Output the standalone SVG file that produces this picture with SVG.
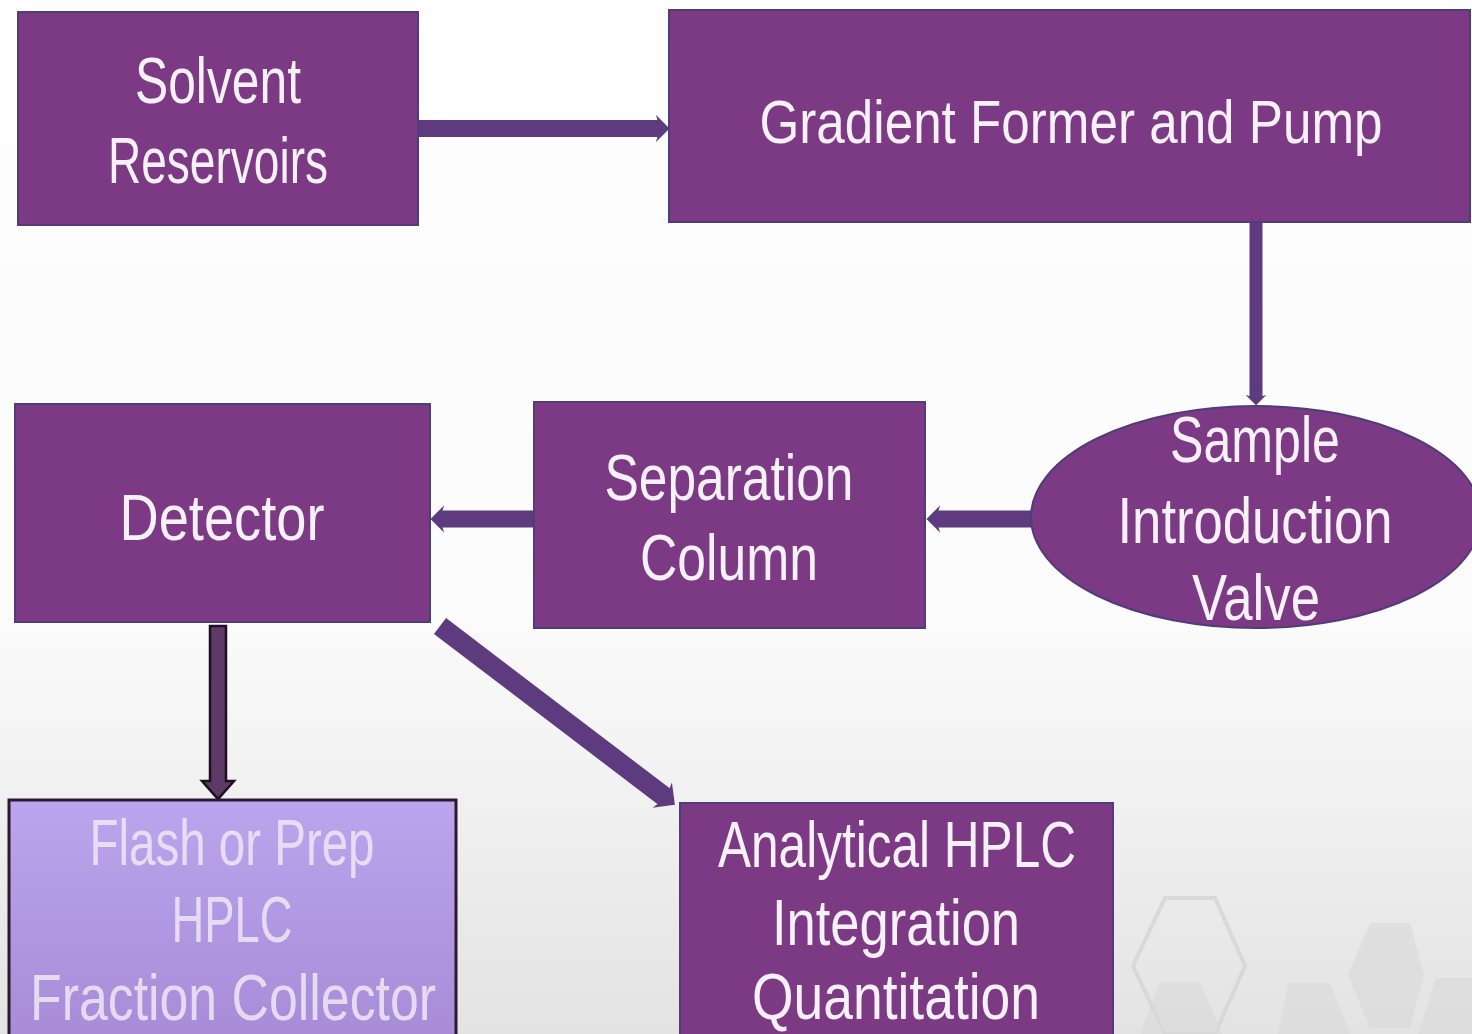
<svg xmlns="http://www.w3.org/2000/svg" width="1472" height="1034" viewBox="0 0 1472 1034">
<defs>
<linearGradient id="bg" x1="0" y1="0" x2="0" y2="1">
<stop offset="0" stop-color="#fefefe"/>
<stop offset="0.6" stop-color="#fbfbfb"/>
<stop offset="1" stop-color="#e3e3e3"/>
</linearGradient>
<linearGradient id="lav" x1="0" y1="0" x2="0" y2="1">
<stop offset="0" stop-color="#bca5ee"/>
<stop offset="1" stop-color="#a78bd6"/>
</linearGradient>
<marker id="head" viewBox="0 0 10 20" markerWidth="0.8" markerHeight="1.9" refX="3" refY="10" orient="auto" markerUnits="strokeWidth">
<path d="M0,0 L10,10 L0,20 L3,10 Z" fill="#5e3a7e"/>
</marker>
</defs>
<style>
.box{fill:#7b3a83;stroke:#4f3c7a;stroke-width:2}
.lbl{font-family:"Liberation Sans",Arial,sans-serif;font-size:64px;fill:#f6f0f8;text-anchor:middle}
.faint{fill:#efe8f6;opacity:0.85}
.conn{stroke:#5e3a7e;fill:none}
.hex{fill:#d9d9d9;opacity:0.6}
.hexo{fill:none;stroke:#d4d4d4;stroke-width:4;opacity:0.8}
</style>
<rect x="0" y="0" width="1472" height="1034" fill="url(#bg)"/>
<g id="decor">
<polygon class="hexo" points="1165,898 1215,898 1245,966 1215,1034 1165,1034 1133,966"/>
<polygon class="hex" points="1160,982 1200,982 1222,1034 1140,1034"/>
<polygon class="hex" points="1288,983 1330,983 1350,1034 1278,1034"/>
<polygon class="hex" points="1370,923 1410,923 1424,975 1410,1028 1370,1028 1348,975"/>
<polygon class="hex" points="1436,978 1472,978 1472,1034 1418,1034"/>
</g>
<g id="connectors">
<line class="conn" x1="418" y1="128.5" x2="660" y2="128.5" stroke-width="17" marker-end="url(#head)"/>
<line class="conn" x1="1256" y1="222" x2="1256" y2="398" stroke-width="13" marker-end="url(#head)"/>
<line class="conn" x1="1032" y1="519" x2="936" y2="519" stroke-width="17" marker-end="url(#head)"/>
<line class="conn" x1="534" y1="519" x2="440" y2="519" stroke-width="17" marker-end="url(#head)"/>
<polygon points="210,626 226,626 226,781 234,781 218,799 202,781 210,781" fill="#5e3a66" stroke="#1e1020" stroke-width="2.5" stroke-linejoin="miter"/>
<line class="conn" x1="440" y1="626" x2="666" y2="798" stroke-width="20" marker-end="url(#head)"/>
</g>
<g id="solvent">
<rect class="box" x="18" y="12" width="400" height="213"/>
<text class="lbl" x="218" y="103" textLength="166" lengthAdjust="spacingAndGlyphs">Solvent</text>
<text class="lbl" x="218" y="183" textLength="220" lengthAdjust="spacingAndGlyphs">Reservoirs</text>
</g>
<g id="pump">
<rect class="box" x="669" y="10" width="801" height="212"/>
<text class="lbl" x="1071" y="143" style="font-size:62px" textLength="623" lengthAdjust="spacingAndGlyphs">Gradient Former and Pump</text>
</g>
<g id="valve">
<ellipse class="box" cx="1256" cy="517" rx="225" ry="111"/>
<text class="lbl" x="1255" y="462" textLength="170" lengthAdjust="spacingAndGlyphs">Sample</text>
<text class="lbl" x="1255" y="543" textLength="275" lengthAdjust="spacingAndGlyphs">Introduction</text>
<text class="lbl" x="1256" y="620" textLength="128" lengthAdjust="spacingAndGlyphs">Valve</text>
</g>
<g id="column">
<rect class="box" x="534" y="402" width="391" height="226"/>
<text class="lbl" x="729" y="500" textLength="249" lengthAdjust="spacingAndGlyphs">Separation</text>
<text class="lbl" x="729" y="580" textLength="178" lengthAdjust="spacingAndGlyphs">Column</text>
</g>
<g id="detector">
<rect class="box" x="15" y="404" width="415" height="218"/>
<text class="lbl" x="222" y="540" textLength="205" lengthAdjust="spacingAndGlyphs">Detector</text>
</g>
<g id="collector">
<rect x="9" y="800" width="447" height="240" fill="url(#lav)" stroke="#2b1a2e" stroke-width="3"/>
<text class="lbl faint" x="232" y="865" textLength="285" lengthAdjust="spacingAndGlyphs">Flash or Prep</text>
<text class="lbl faint" x="232" y="942" textLength="121" lengthAdjust="spacingAndGlyphs">HPLC</text>
<text class="lbl faint" x="233" y="1020" textLength="406" lengthAdjust="spacingAndGlyphs">Fraction Collector</text>
</g>
<g id="analytical">
<rect class="box" x="680" y="803" width="433" height="240"/>
<text class="lbl" x="897" y="867" textLength="358" lengthAdjust="spacingAndGlyphs">Analytical HPLC</text>
<text class="lbl" x="896" y="945" textLength="248" lengthAdjust="spacingAndGlyphs">Integration</text>
<text class="lbl" x="896" y="1019" textLength="288" lengthAdjust="spacingAndGlyphs">Quantitation</text>
</g>
</svg>
